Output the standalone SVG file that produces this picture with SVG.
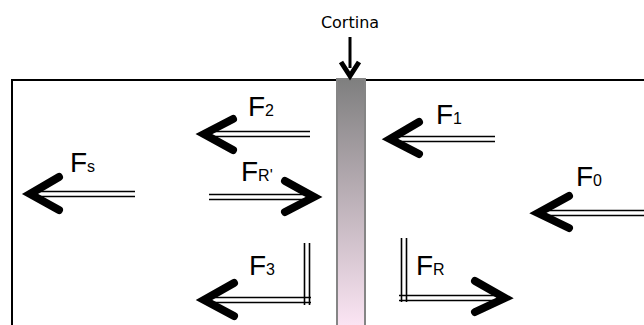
<svg xmlns="http://www.w3.org/2000/svg" width="644" height="325" viewBox="0 0 644 325">
<defs>
<linearGradient id="curt" x1="0" y1="0" x2="0" y2="1">
<stop offset="0" stop-color="#7f7f7f"/>
<stop offset="1" stop-color="#fde6f5"/>
</linearGradient>
<style>
.frame{stroke:#000;stroke-width:2;fill:none}
.dbl{stroke:#000;stroke-width:1.6;fill:none}
.head{stroke:#000;stroke-width:8;fill:none;stroke-linecap:round;stroke-linejoin:miter}
.lbl{font-family:"Liberation Sans",Arial,sans-serif;font-size:28px;fill:#000}
.sub{font-size:16px}
.cap{font-family:"DejaVu Sans",Verdana,sans-serif;font-size:16px;fill:#000}
</style>
</defs>
<rect width="644" height="325" fill="#fff"/>
<g id="frame">
<path class="frame" d="M11,80 H644 M12,80 V325"/>
</g>
<g id="cortina">
<rect x="337" y="79" width="28" height="250" fill="url(#curt)" stroke="#858585" stroke-width="2"/>
<text class="cap" x="350" y="28" text-anchor="middle">Cortina</text>
<line x1="350" y1="37" x2="350" y2="68" stroke="#000" stroke-width="3"/>
<path d="M341,62 L350,76 L359,62" stroke="#000" stroke-width="5" fill="none" stroke-linejoin="miter"/>
</g>
<g id="connectors">
<g id="F2">
<path class="dbl" d="M208,131.5 H310 M208,136.5 H310"/>
<path class="head" d="M233,119 L204,134 L233,150"/>
</g>
<g id="FRp">
<path class="dbl" d="M209,194.5 H308 M209,199.5 H308"/>
<path class="head" d="M285,181 L314,197 L285,212"/>
</g>
<g id="Fs">
<path class="dbl" d="M34,191.5 H135 M34,196.5 H135"/>
<path class="head" d="M59,177 L30,194 L59,210"/>
</g>
<g id="F1">
<path class="dbl" d="M394,136.5 H495 M394,141.5 H495"/>
<path class="head" d="M419,122 L390,139 L419,154"/>
</g>
<g id="F0">
<path class="dbl" d="M542,210.5 H644 M542,215.5 H644"/>
<path class="head" d="M569,196 L538,213 L569,228"/>
</g>
<g id="F3">
<path class="dbl" d="M208,297.5 H311 M208,302.5 H311 M304.5,243 V305 M309.5,243 V305"/>
<path class="head" d="M234,283 L204,300 L234,316"/>
</g>
<g id="FR">
<path class="dbl" d="M399,295.5 H500 M399,300.5 H500 M401.5,238 V302 M406.5,238 V302"/>
<path class="head" d="M475,281 L505,298 L475,312"/>
</g>
</g>
<g id="labels">
<text class="lbl" x="248" y="116">F<tspan class="sub">2</tspan></text>
<text class="lbl" x="241" y="181">F<tspan class="sub">R'</tspan></text>
<text class="lbl" x="70" y="172">F<tspan class="sub">s</tspan></text>
<text class="lbl" x="436" y="124">F<tspan class="sub">1</tspan></text>
<text class="lbl" x="576" y="186">F<tspan class="sub">0</tspan></text>
<text class="lbl" x="249" y="275">F<tspan class="sub">3</tspan></text>
<text class="lbl" x="416" y="275">F<tspan class="sub">R</tspan></text>
</g>
</svg>
